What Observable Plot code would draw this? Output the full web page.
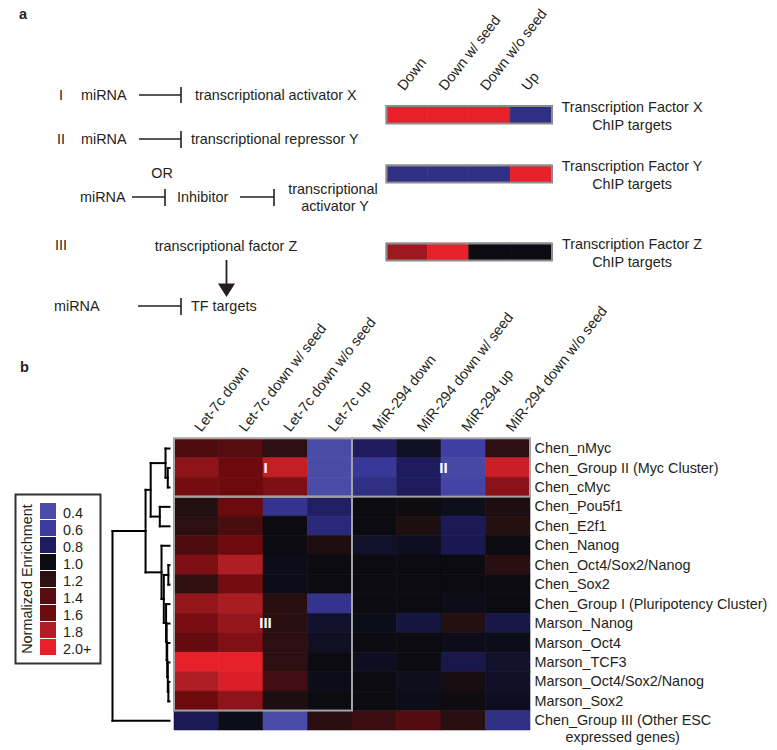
<!DOCTYPE html>
<html><head><meta charset="utf-8">
<script src="https://cdn.jsdelivr.net/npm/d3@7"></script>
<script src="https://cdn.jsdelivr.net/npm/@observablehq/plot@0.6"></script>
<style>
html,body{margin:0;padding:0;background:#fff;}
#fig{position:relative;width:777px;height:750px;overflow:hidden;font-family:"Liberation Sans",Arial,Helvetica,sans-serif;color:#231f20;}
#fig svg{overflow:visible;}
</style></head><body><div id="fig">
<svg id="schema" width="777" height="330" style="position:absolute;left:0;top:0" font-family="Liberation Sans, Arial, sans-serif" font-size="14.4" fill="#231f20">
  <text x="19" y="18.5" font-weight="bold" font-size="14.5">a</text>
  <text x="59" y="100">I</text>
  <text x="81" y="100">miRNA</text>
  <line x1="139" y1="95" x2="181" y2="95" stroke="#231f20" stroke-width="1.6"/>
  <line x1="181" y1="87" x2="181" y2="103" stroke="#231f20" stroke-width="1.6"/>
  <text x="195" y="100">transcriptional activator X</text>
  <text x="57" y="144">II</text>
  <text x="81" y="144">miRNA</text>
  <line x1="139" y1="139" x2="181" y2="139" stroke="#231f20" stroke-width="1.6"/>
  <line x1="181" y1="131" x2="181" y2="148" stroke="#231f20" stroke-width="1.6"/>
  <text x="191" y="144">transcriptional repressor Y</text>
  <text x="162" y="178" text-anchor="middle">OR</text>
  <text x="80" y="202">miRNA</text>
  <line x1="132" y1="197" x2="165" y2="197" stroke="#231f20" stroke-width="1.6"/>
  <line x1="165" y1="189" x2="165" y2="206" stroke="#231f20" stroke-width="1.6"/>
  <text x="177" y="202">Inhibitor</text>
  <line x1="240" y1="197" x2="274" y2="197" stroke="#231f20" stroke-width="1.6"/>
  <line x1="274" y1="189" x2="274" y2="206" stroke="#231f20" stroke-width="1.6"/>
  <text x="333" y="194" text-anchor="middle">transcriptional</text>
  <text x="335" y="211" text-anchor="middle">activator Y</text>
  <text x="55" y="250">III</text>
  <text x="226" y="251" text-anchor="middle">transcriptional factor Z</text>
  <line x1="226.5" y1="260" x2="226.5" y2="285" stroke="#231f20" stroke-width="1.8"/>
  <polygon points="218,283.5 235,283.5 226.5,297" fill="#231f20"/>
  <text x="54" y="311">miRNA</text>
  <line x1="138" y1="306" x2="181" y2="306" stroke="#231f20" stroke-width="1.6"/>
  <line x1="181" y1="298" x2="181" y2="315" stroke="#231f20" stroke-width="1.6"/>
  <text x="191" y="311">TF targets</text>
  <text x="20" y="372" font-weight="bold" font-size="14.5">b</text>
</svg>
</div>
<script>
// ---------- data ----------
const columns = ["Let-7c down","Let-7c down w/ seed","Let-7c down w/o seed","Let-7c up",
                 "MiR-294 down","MiR-294 down w/ seed","MiR-294 up","MiR-294 down w/o seed"];
const rows = ["Chen_nMyc","Chen_Group II (Myc Cluster)","Chen_cMyc","Chen_Pou5f1","Chen_E2f1",
              "Chen_Nanog","Chen_Oct4/Sox2/Nanog","Chen_Sox2","Chen_Group I (Pluripotency Cluster)",
              "Marson_Nanog","Marson_Oct4","Marson_TCF3","Marson_Oct4/Sox2/Nanog","Marson_Sox2",
              "Chen_Group III (Other ESC\nexpressed genes)"];
// normalized enrichment per column (one value per row, top to bottom)
const let7cDown        = [1.35,1.70,1.62,1.15,1.20,1.35,1.65,1.22,1.72,1.63,1.50,2.10,1.80,1.60,0.82];
const let7cDownSeed    = [1.40,1.60,1.60,1.56,1.33,1.60,1.80,1.62,1.78,1.72,1.66,2.20,1.95,1.70,0.98];
const let7cDownNoSeed  = [1.20,1.88,1.65,0.65,1.00,1.00,0.98,0.98,1.18,1.18,1.20,1.20,1.30,1.10,0.40];
const let7cUp          = [0.40,0.40,0.40,0.78,0.72,1.12,1.00,1.00,0.65,0.93,0.95,1.00,0.98,1.00,1.18];
const mir294Down       = [0.80,0.62,0.68,1.00,1.00,0.93,1.00,1.00,1.00,0.98,1.00,0.96,1.00,1.00,1.27];
const mir294DownSeed   = [0.95,0.80,0.80,1.02,1.10,0.96,1.00,1.00,1.00,0.88,1.00,1.00,0.97,0.98,1.38];
const mir294Up         = [0.55,0.45,0.50,0.97,0.82,0.84,1.00,1.00,0.98,1.15,0.98,0.85,1.08,1.02,1.18];
const mir294DownNoSeed = [1.20,1.90,1.68,1.12,1.15,1.00,1.18,1.00,1.00,0.86,0.98,0.93,0.94,0.96,0.68];

const legendTicks  = [0.4,0.6,0.8,1.0,1.2,1.4,1.6,1.8,2.0];
const legendLabels = ["0.4","0.6","0.8","1.0","1.2","1.4","1.6","1.8","2.0+"];
const enrichmentColors = ["#4b4ca8","#3b3b9e","#1e1c5e","#0b0b11","#2c1011","#580c10","#6e0a0e","#ae1e24","#e8202a"];

// boxed groups: name, column span, row span, row the label sits on
const groupNames    = ["I","II","III"];
const groupColSpans = [[0,4],[4,8],[0,4]];
const groupRowSpans = [[0,3],[0,3],[3,14]];
const groupLabelRow = [1,1,9];

// hierarchical clustering of rows: [childA, childB, height]; leaves are 0..14, new nodes 15..
const merges = [[12,13,0.02],[11,15,0.03],[10,16,0.04],[9,17,0.05],[8,18,0.06],
                [6,7,0.02],[20,19,0.10],[5,21,0.14],[1,2,0.03],[0,23,0.07],
                [3,4,0.17],[24,25,0.33],[26,22,0.42],[27,14,1.0]];

// panel a schematic bars
const schematicCols = ["Down","Down w/ seed","Down w/o seed","Up"];
const tfXValues = [2.0,2.0,2.0,0.68];
const tfYValues = [0.68,0.68,0.68,2.0];
const tfZValues = [1.75,2.0,1.0,1.0];
const tfLabels = ["Transcription Factor X\nChIP targets","Transcription Factor Y\nChIP targets","Transcription Factor Z\nChIP targets"];

// ---------- drawing ----------
const fig = document.getElementById("fig");
const fontFamily = '"Liberation Sans", Arial, Helvetica, sans-serif';
const baseStyle = {fontFamily, fontSize:"14.4px", color:"#231f20", background:"transparent", overflow:"visible"};
function place(node, left, top){ node.style.position="absolute"; node.style.left=left+"px"; node.style.top=top+"px"; fig.appendChild(node); }
const colorScale = () => ({type:"linear", domain:[legendTicks[0], legendTicks[legendTicks.length-1]],
  interpolate: d3.piecewise(d3.interpolateRgb, enrichmentColors), clamp:true});

// panel a bars
function tfBar(values, label, top, height, marginTop, withCols){
  const marks = [
    Plot.rect(values, {x1:(d,i)=>i, x2:(d,i)=>i+1, fill:d=>d, stroke:d=>d, strokeWidth:0.5}),
    Plot.frame({stroke:"#8c8c8c", strokeWidth:2}),
    Plot.text([label], {frameAnchor:"right", textAnchor:"middle", dx:80, lineHeight:1.25})
  ];
  if (withCols) marks.push(Plot.text(schematicCols, {x:(d,i)=>i+0.5, frameAnchor:"top", rotate:-52,
      textAnchor:"start", lineAnchor:"bottom", dx:-3, dy:-14.5}));
  const p = Plot.plot({width:777, height, marginTop, marginBottom:3, marginLeft:386, marginRight:225.5,
    style:baseStyle, x:{domain:[0,4], range:[386,551.5], axis:null}, color:colorScale(), marks});
  place(p, 0, top);
}
tfBar(tfXValues, tfLabels[0], 0, 126, 105.5, true);
tfBar(tfYValues, tfLabels[1], 150, 35, 15, false);
tfBar(tfZValues, tfLabels[2], 228, 35, 15, false);

// panel b heatmap
const series = [let7cDown,let7cDownSeed,let7cDownNoSeed,let7cUp,mir294Down,mir294DownSeed,mir294Up,mir294DownNoSeed];
const cells = rows.flatMap((r,i)=>columns.map((c,j)=>({row:r, col:c, i, j, v:series[j][i]})));
const groups = groupNames.map((n,k)=>({name:n, c0:groupColSpans[k][0], c1:groupColSpans[k][1],
  r0:groupRowSpans[k][0], r1:groupRowSpans[k][1], lc:(groupColSpans[k][0]+groupColSpans[k][1])/2, lr:groupLabelRow[k]+0.5}));
const multi = rows.filter(d=>d.includes("\n"));

const heat = Plot.plot({
  width:777, height:430, marginLeft:174, marginRight:247, marginTop:118.3, marginBottom:20,
  style:baseStyle,
  x:{domain:[0,8], range:[174,530], axis:null},
  y:{domain:[0,15], range:[118.3,410], axis:null},
  color:colorScale(),
  marks:[
    Plot.rect(cells, {x1:"j", x2:d=>d.j+1, y1:"i", y2:d=>d.i+1, fill:"v", stroke:"v", strokeWidth:0.6}),
    Plot.rect(groups, {x1:"c0", x2:"c1", y1:"r0", y2:"r1", fill:"none", stroke:"#a3a3a3", strokeWidth:2}),
    Plot.text(groups, {x:"lc", y:"lr", text:"name", fill:"white", fontWeight:"bold", fontSize:15, dx:2}),
    Plot.text(columns, {x:(d,j)=>j+0.5, frameAnchor:"top", rotate:-52, textAnchor:"start", lineAnchor:"bottom", dx:4.5, dy:-6}),
    Plot.text(rows, {y:(d,i)=>i+0.5, frameAnchor:"right", textAnchor:"start", dx:4, text:d=>d.split("\n")[0]}),
    Plot.text(multi, {y:d=>rows.indexOf(d)+0.5, frameAnchor:"right", textAnchor:"start", dx:35, dy:17, text:d=>d.split("\n")[1]})
  ]
});
place(heat, 0, 320);

// dendrogram
const nodeY = rows.map((r,i)=>i+0.5), nodeH = rows.map(()=>0);
const segs = [];
merges.forEach(([a,b,h],k)=>{
  const id = rows.length + k;
  nodeY[id] = (nodeY[a]+nodeY[b])/2; nodeH[id] = h;
  segs.push({x1:h, y1:nodeY[a], x2:h, y2:nodeY[b]});
  segs.push({x1:nodeH[a], y1:nodeY[a], x2:h, y2:nodeY[a]});
  segs.push({x1:nodeH[b], y1:nodeY[b], x2:h, y2:nodeY[b]});
});
const dendro = Plot.plot({
  width:200, height:430, margin:0, style:baseStyle,
  x:{domain:[1,0], range:[112,169], axis:null},
  y:{domain:[0,15], range:[118.3,410], axis:null},
  marks:[Plot.link(segs, {x1:"x1", y1:"y1", x2:"x2", y2:"y2", stroke:"#000", strokeWidth:2, strokeLinecap:"square"})]
});
place(dendro, 0, 320);

// legend
const legend = Plot.plot({
  width:87, height:171, marginTop:1, marginBottom:1, marginLeft:1, marginRight:1, style:baseStyle,
  x:{domain:["k"], range:[26,42], axis:null, padding:0},
  y:{domain:legendLabels, range:[8.7,163.7], axis:null, paddingInner:0.06, paddingOuter:0},
  color:colorScale(),
  marks:[
    Plot.frame({stroke:"#333", strokeWidth:2}),
    Plot.cell(legendTicks, {x:()=>"k", y:(d,i)=>legendLabels[i], fill:d=>d}),
    Plot.text(legendTicks, {x:()=>"k", y:(d,i)=>legendLabels[i], text:(d,i)=>legendLabels[i], textAnchor:"start", dx:14.5, dy:2}),
    Plot.text(["Normalized Enrichment"], {frameAnchor:"left", textAnchor:"middle", rotate:-90, dx:12})
  ]
});
place(legend, 14, 493);
</script></body></html>
